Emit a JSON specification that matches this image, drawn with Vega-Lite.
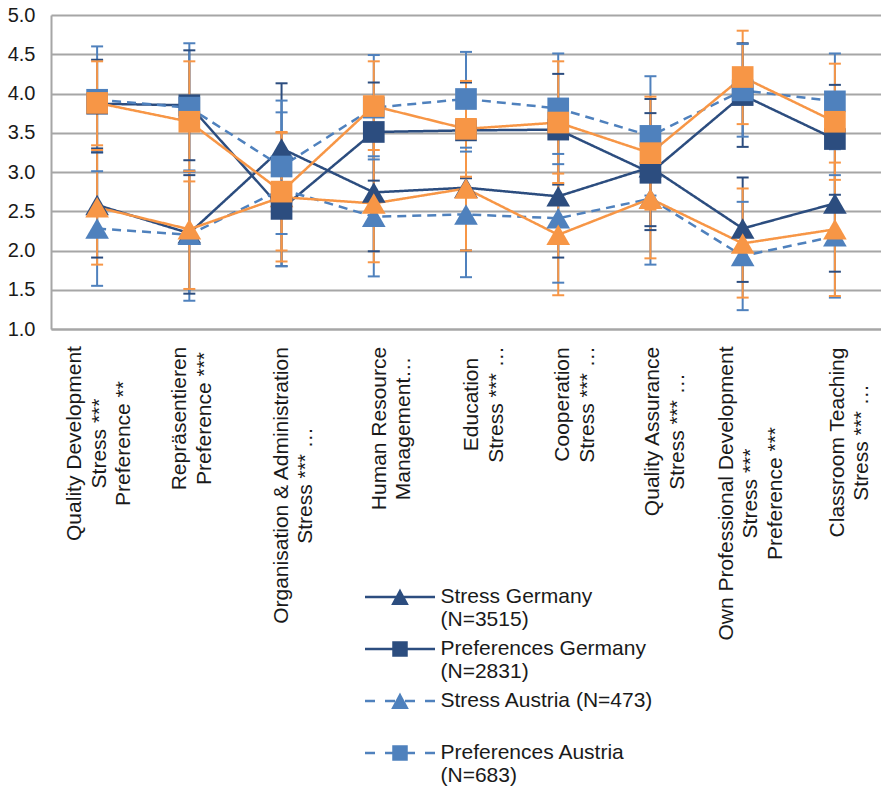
{
  "$schema": "https://vega.github.io/schema/vega-lite/v6.json",
  "width": 830,
  "height": 314,
  "autosize": {"type": "none"},
  "padding": {"left": 51, "top": 15, "right": 0, "bottom": 459},
  "background": "white",
  "config": {
    "view": {"stroke": null},
    "font": "Liberation Sans",
    "axisY": {"labelFont": "Liberation Sans", "labelFontSize": 20, "labelColor": "#1a1a1a", "labelPadding": 16, "ticks": false, "tickSize": 0, "grid": true, "gridColor": "#A6A6A6", "gridWidth": 2, "domain": true, "domainColor": "#A6A6A6", "domainWidth": 2},
    "axisX": {"labelFont": "Liberation Sans", "labelFontSize": 21, "labelColor": "#1a1a1a", "ticks": false, "tickSize": 0, "grid": false, "domain": true, "domainColor": "#A6A6A6", "domainWidth": 2},
    "legend": {"labelFont": "Liberation Sans", "labelFontSize": 21, "labelColor": "#1a1a1a", "labelLimit": 0, "symbolSize": 100, "symbolStrokeWidth": 2.5, "symbolOffset": 24.5, "labelOffset": 30, "rowPadding": 7, "padding": 0}
  },
  "data": {"values": [
    {"c": "Quality Development|Stress ***|Preference **", "s": "Stress Germany (N=3515)", "m": 2.58, "lo": 1.91, "hi": 3.25},
    {"c": "Quality Development|Stress ***|Preference **", "s": "Preferences Germany (N=2831)", "m": 3.87, "lo": 3.30, "hi": 4.43},
    {"c": "Quality Development|Stress ***|Preference **", "s": "Stress Austria (N=473)", "m": 2.28, "lo": 1.55, "hi": 3.01},
    {"c": "Quality Development|Stress ***|Preference **", "s": "Preferences Austria (N=683)", "m": 3.92, "lo": 3.25, "hi": 4.60},
    {"c": "Quality Development|Stress ***|Preference **", "s": "Stress Switzerland", "m": 2.55, "lo": 1.82, "hi": 3.28},
    {"c": "Quality Development|Stress ***|Preference **", "s": "Preferences Switzerland", "m": 3.88, "lo": 3.34, "hi": 4.41},
    {"c": "Repräsentieren|Preference ***", "s": "Stress Germany (N=3515)", "m": 2.22, "lo": 1.45, "hi": 2.96},
    {"c": "Repräsentieren|Preference ***", "s": "Preferences Germany (N=2831)", "m": 3.85, "lo": 3.15, "hi": 4.55},
    {"c": "Repräsentieren|Preference ***", "s": "Stress Austria (N=473)", "m": 2.20, "lo": 1.36, "hi": 3.02},
    {"c": "Repräsentieren|Preference ***", "s": "Preferences Austria (N=683)", "m": 3.82, "lo": 3.00, "hi": 4.64},
    {"c": "Repräsentieren|Preference ***", "s": "Stress Switzerland", "m": 2.27, "lo": 1.51, "hi": 3.01},
    {"c": "Repräsentieren|Preference ***", "s": "Preferences Switzerland", "m": 3.64, "lo": 2.88, "hi": 4.41},
    {"c": "Organisation & Administration|Stress *** …", "s": "Stress Germany (N=3515)", "m": 3.30, "lo": 2.47, "hi": 4.13},
    {"c": "Organisation & Administration|Stress *** …", "s": "Preferences Germany (N=2831)", "m": 2.53, "lo": 1.80, "hi": 3.26},
    {"c": "Organisation & Administration|Stress *** …", "s": "Stress Austria (N=473)", "m": 2.78, "lo": 1.80, "hi": 3.76},
    {"c": "Organisation & Administration|Stress *** …", "s": "Preferences Austria (N=683)", "m": 3.07, "lo": 2.21, "hi": 3.91},
    {"c": "Organisation & Administration|Stress *** …", "s": "Stress Switzerland", "m": 2.68, "lo": 1.86, "hi": 3.50},
    {"c": "Organisation & Administration|Stress *** …", "s": "Preferences Switzerland", "m": 2.75, "lo": 2.00, "hi": 3.51},
    {"c": "Human Resource|Management…", "s": "Stress Germany (N=3515)", "m": 2.74, "lo": 1.99, "hi": 3.49},
    {"c": "Human Resource|Management…", "s": "Preferences Germany (N=2831)", "m": 3.51, "lo": 2.89, "hi": 4.14},
    {"c": "Human Resource|Management…", "s": "Stress Austria (N=473)", "m": 2.43, "lo": 1.67, "hi": 3.20},
    {"c": "Human Resource|Management…", "s": "Preferences Austria (N=683)", "m": 3.82, "lo": 3.16, "hi": 4.49},
    {"c": "Human Resource|Management…", "s": "Stress Switzerland", "m": 2.60, "lo": 1.85, "hi": 3.42},
    {"c": "Human Resource|Management…", "s": "Preferences Switzerland", "m": 3.84, "lo": 3.28, "hi": 4.41},
    {"c": "Education|Stress *** …", "s": "Stress Germany (N=3515)", "m": 2.80, "lo": 2.00, "hi": 3.60},
    {"c": "Education|Stress *** …", "s": "Preferences Germany (N=2831)", "m": 3.53, "lo": 2.92, "hi": 4.14},
    {"c": "Education|Stress *** …", "s": "Stress Austria (N=473)", "m": 2.46, "lo": 1.66, "hi": 3.26},
    {"c": "Education|Stress *** …", "s": "Preferences Austria (N=683)", "m": 3.93, "lo": 3.31, "hi": 4.53},
    {"c": "Education|Stress *** …", "s": "Stress Switzerland", "m": 2.79, "lo": 2.00, "hi": 3.58},
    {"c": "Education|Stress *** …", "s": "Preferences Switzerland", "m": 3.55, "lo": 2.94, "hi": 4.16},
    {"c": "Cooperation|Stress *** …", "s": "Stress Germany (N=3515)", "m": 2.69, "lo": 1.91, "hi": 3.47},
    {"c": "Cooperation|Stress *** …", "s": "Preferences Germany (N=2831)", "m": 3.54, "lo": 2.84, "hi": 4.25},
    {"c": "Cooperation|Stress *** …", "s": "Stress Austria (N=473)", "m": 2.41, "lo": 1.59, "hi": 3.23},
    {"c": "Cooperation|Stress *** …", "s": "Preferences Austria (N=683)", "m": 3.81, "lo": 3.10, "hi": 4.51},
    {"c": "Cooperation|Stress *** …", "s": "Stress Switzerland", "m": 2.20, "lo": 1.43, "hi": 2.98},
    {"c": "Cooperation|Stress *** …", "s": "Preferences Switzerland", "m": 3.63, "lo": 2.86, "hi": 4.41},
    {"c": "Quality Assurance|Stress *** …", "s": "Stress Germany (N=3515)", "m": 3.06, "lo": 2.26, "hi": 3.93},
    {"c": "Quality Assurance|Stress *** …", "s": "Preferences Germany (N=2831)", "m": 2.99, "lo": 2.31, "hi": 3.75},
    {"c": "Quality Assurance|Stress *** …", "s": "Stress Austria (N=473)", "m": 2.66, "lo": 1.82, "hi": 3.50},
    {"c": "Quality Assurance|Stress *** …", "s": "Preferences Austria (N=683)", "m": 3.46, "lo": 2.70, "hi": 4.22},
    {"c": "Quality Assurance|Stress *** …", "s": "Stress Switzerland", "m": 2.66, "lo": 1.90, "hi": 3.42},
    {"c": "Quality Assurance|Stress *** …", "s": "Preferences Switzerland", "m": 3.24, "lo": 2.52, "hi": 3.96},
    {"c": "Own Professional Development|Stress ***|Preference ***", "s": "Stress Germany (N=3515)", "m": 2.28, "lo": 1.60, "hi": 2.93},
    {"c": "Own Professional Development|Stress ***|Preference ***", "s": "Preferences Germany (N=2831)", "m": 3.98, "lo": 3.32, "hi": 4.64},
    {"c": "Own Professional Development|Stress ***|Preference ***", "s": "Stress Austria (N=473)", "m": 1.93, "lo": 1.24, "hi": 2.62},
    {"c": "Own Professional Development|Stress ***|Preference ***", "s": "Preferences Austria (N=683)", "m": 4.04, "lo": 3.45, "hi": 4.63},
    {"c": "Own Professional Development|Stress ***|Preference ***", "s": "Stress Switzerland", "m": 2.09, "lo": 1.40, "hi": 2.79},
    {"c": "Own Professional Development|Stress ***|Preference ***", "s": "Preferences Switzerland", "m": 4.21, "lo": 3.61, "hi": 4.80},
    {"c": "Classroom Teaching|Stress *** …", "s": "Stress Germany (N=3515)", "m": 2.60, "lo": 1.73, "hi": 3.47},
    {"c": "Classroom Teaching|Stress *** …", "s": "Preferences Germany (N=2831)", "m": 3.42, "lo": 2.71, "hi": 4.11},
    {"c": "Classroom Teaching|Stress *** …", "s": "Stress Austria (N=473)", "m": 2.18, "lo": 1.40, "hi": 2.96},
    {"c": "Classroom Teaching|Stress *** …", "s": "Preferences Austria (N=683)", "m": 3.90, "lo": 3.29, "hi": 4.51},
    {"c": "Classroom Teaching|Stress *** …", "s": "Stress Switzerland", "m": 2.27, "lo": 1.42, "hi": 3.12},
    {"c": "Classroom Teaching|Stress *** …", "s": "Preferences Switzerland", "m": 3.64, "lo": 2.90, "hi": 4.38}
  ]},
  "encoding": {
    "x": {
      "field": "c", "type": "nominal", "sort": null,
      "scale": {"paddingInner": 0, "paddingOuter": 0},
      "axis": {
        "title": null, "labelAngle": -90, "labelAlign": "center", "labelBaseline": "middle",
        "labelLineHeight": 24.5, "labelLimit": 0, "labelOverlap": false,
        "labelExpr": "split(datum.label, '|')",
        "labelPadding": {"expr": "indexof(datum.value,'Quality Dev')==0 ? 114 : indexof(datum.value,'Rep')==0 ? 89 : indexof(datum.value,'Org')==0 ? 156 : indexof(datum.value,'Human')==0 ? 99 : indexof(datum.value,'Educ')==0 ? 75 : indexof(datum.value,'Coop')==0 ? 75 : indexof(datum.value,'Quality Ass')==0 ? 102 : indexof(datum.value,'Own')==0 ? 164 : 113"},
        "labelOffset": {"expr": "indexof(datum.value,'Quality Dev')==0 ? -22 : indexof(datum.value,'Rep')==0 ? -9 : indexof(datum.value,'Org')==0 ? 0 : indexof(datum.value,'Human')==0 ? 6 : indexof(datum.value,'Educ')==0 ? 6 : indexof(datum.value,'Coop')==0 ? 5 : indexof(datum.value,'Quality Ass')==0 ? 3 : indexof(datum.value,'Own')==0 ? -16 : 3"}
      }
    }
  },
  "layer": [
    {
      "mark": {"type": "rule", "strokeWidth": 2},
      "encoding": {
        "y": {"field": "lo", "type": "quantitative", "scale": {"domain": [1, 5], "nice": false, "zero": false},
              "axis": {"title": null, "values": [1, 1.5, 2, 2.5, 3, 3.5, 4, 4.5, 5], "format": ".1f"}},
        "y2": {"field": "hi"},
        "color": {"field": "s", "type": "nominal", "legend": null,
          "scale": {"domain": ["Stress Germany (N=3515)", "Preferences Germany (N=2831)", "Stress Austria (N=473)", "Preferences Austria (N=683)", "Stress Switzerland", "Preferences Switzerland"],
                    "range": ["#2C4D7F", "#2C4D7F", "#4F81BD", "#4F81BD", "#F79646", "#F79646"]}}
      }
    },
    {
      "mark": {"type": "tick", "thickness": 2, "size": 12, "opacity": 1},
      "encoding": {
        "y": {"field": "lo", "type": "quantitative", "axis": {"title": null, "values": [1, 1.5, 2, 2.5, 3, 3.5, 4, 4.5, 5], "format": ".1f"}},
        "color": {"field": "s", "type": "nominal", "legend": null}
      }
    },
    {
      "mark": {"type": "tick", "thickness": 2, "size": 12, "opacity": 1},
      "encoding": {
        "y": {"field": "hi", "type": "quantitative", "axis": {"title": null, "values": [1, 1.5, 2, 2.5, 3, 3.5, 4, 4.5, 5], "format": ".1f"}},
        "color": {"field": "s", "type": "nominal", "legend": null}
      }
    },
    {
      "mark": {"type": "line", "strokeWidth": 2.5},
      "encoding": {
        "y": {"field": "m", "type": "quantitative", "axis": {"title": null, "values": [1, 1.5, 2, 2.5, 3, 3.5, 4, 4.5, 5], "format": ".1f"}},
        "color": {"field": "s", "type": "nominal", "legend": null},
        "strokeDash": {"field": "s", "type": "nominal", "legend": null,
          "scale": {"domain": ["Stress Germany (N=3515)", "Preferences Germany (N=2831)", "Stress Austria (N=473)", "Preferences Austria (N=683)", "Stress Switzerland", "Preferences Switzerland"],
                    "range": [[1, 0], [1, 0], [9, 6], [9, 6], [1, 0], [1, 0]]}}
      }
    },
    {
      "transform": [{"filter": "indexof(datum.s, 'Stress') == 0"}],
      "mark": {"type": "point", "shape": "triangle-up", "filled": true, "size": 560, "opacity": 1},
      "encoding": {
        "y": {"field": "m", "type": "quantitative", "axis": {"title": null, "values": [1, 1.5, 2, 2.5, 3, 3.5, 4, 4.5, 5], "format": ".1f"}},
        "color": {"field": "s", "type": "nominal", "legend": null}
      }
    },
    {
      "transform": [{"filter": "indexof(datum.s, 'Pref') == 0"}],
      "mark": {"type": "point", "shape": "square", "filled": true, "size": 470, "opacity": 1},
      "encoding": {
        "y": {"field": "m", "type": "quantitative", "axis": {"title": null, "values": [1, 1.5, 2, 2.5, 3, 3.5, 4, 4.5, 5], "format": ".1f"}},
        "color": {"field": "s", "type": "nominal", "legend": null}
      }
    },
    {
      "transform": [{"filter": "false"}],
      "mark": {"type": "point", "filled": true, "opacity": 1, "strokeWidth": 2.5},
      "encoding": {
        "shape": {"field": "s", "type": "nominal",
          "scale": {"domain": ["Stress Germany (N=3515)", "Preferences Germany (N=2831)", "Stress Austria (N=473)", "Preferences Austria (N=683)"],
                    "range": ["M-7,0H7M0,-1.15L1.35,1.35H-1.35Z", "M-7,0H7M-1.3,-1.3H1.3V1.3H-1.3Z", "M-7,0H-5M-3,0H-1M1,0H3M5,0H7M0,-1.15L1.35,1.35H-1.35Z", "M-7,0H-5M-3,0H-1M1,0H3M5,0H7M-1.3,-1.3H1.3V1.3H-1.3Z"]},
          "legend": {"title": null, "orient": "none", "legendX": 314, "legendY": 571.5,
            "labelExpr": "datum.label == 'Stress Austria (N=473)' ? [datum.label, ''] : [slice(datum.label, 0, indexof(datum.label, ' (')), slice(datum.label, indexof(datum.label, ' (') + 1)]"}},
        "fill": {"field": "s", "type": "nominal",
          "scale": {"domain": ["Stress Germany (N=3515)", "Preferences Germany (N=2831)", "Stress Austria (N=473)", "Preferences Austria (N=683)"],
                    "range": ["#2C4D7F", "#2C4D7F", "#4F81BD", "#4F81BD"]},
          "legend": {"title": null, "orient": "none", "legendX": 314, "legendY": 571.5,
            "labelExpr": "datum.label == 'Stress Austria (N=473)' ? [datum.label, ''] : [slice(datum.label, 0, indexof(datum.label, ' (')), slice(datum.label, indexof(datum.label, ' (') + 1)]"}},
        "stroke": {"field": "s", "type": "nominal",
          "scale": {"domain": ["Stress Germany (N=3515)", "Preferences Germany (N=2831)", "Stress Austria (N=473)", "Preferences Austria (N=683)"],
                    "range": ["#2C4D7F", "#2C4D7F", "#4F81BD", "#4F81BD"]},
          "legend": {"title": null, "orient": "none", "legendX": 314, "legendY": 571.5,
            "labelExpr": "datum.label == 'Stress Austria (N=473)' ? [datum.label, ''] : [slice(datum.label, 0, indexof(datum.label, ' (')), slice(datum.label, indexof(datum.label, ' (') + 1)]"}}
      }
    }
  ]
}
